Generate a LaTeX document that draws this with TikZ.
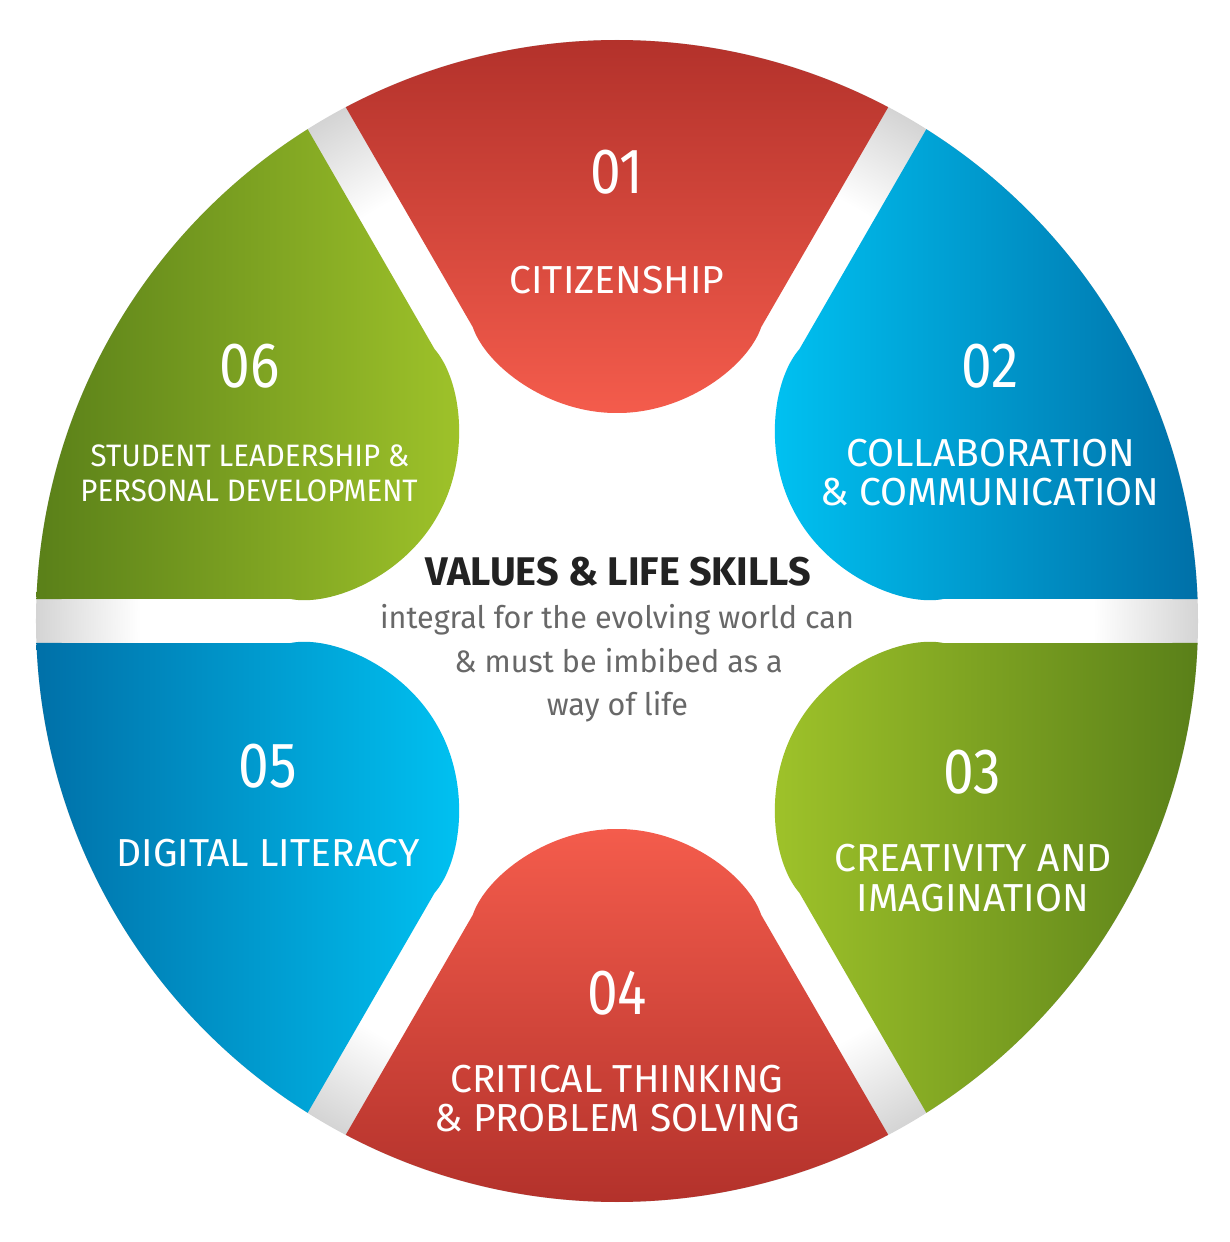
\documentclass[tikz,border=0pt]{standalone}
\usepackage{fontspec}
\setmainfont{Fira Sans}
\newfontfamily\numfont[FakeStretch=0.86]{Fira Sans}
\newfontfamily\labfont[FakeStretch=1.0]{Fira Sans}
\newfontfamily\smlabfont[FakeStretch=0.95]{Fira Sans}
\newfontfamily\titlefont[FakeStretch=0.99]{Fira Sans}
\newfontfamily\subfont[FakeStretch=0.985]{Fira Sans}
\definecolor{RedD}{HTML}{AF2F29}
\definecolor{RedL}{HTML}{F45C4C}
\definecolor{BlueL}{HTML}{00C3F3}
\definecolor{BlueD}{HTML}{0070A8}
\definecolor{GreenL}{HTML}{A0C42A}
\definecolor{GreenD}{HTML}{5A8019}
\definecolor{GapGrey}{HTML}{D4D4D4}
\definecolor{TitleC}{HTML}{222222}
\definecolor{SubC}{HTML}{686868}
\pgfdeclareradialshading{ringshade}{\pgfpointorigin}{color(0bp)=(white); color(20.5bp)=(white); color(25bp)=(GapGrey); color(50bp)=(GapGrey)}
\newcommand\segpath[2]{%
  \path[#2] ({62.17+#1}:581) arc[start angle={62.17+#1}, end angle={117.83+#1}, radius=581]
    -- ({116.14+#1}:327.5)
    .. controls ({117.2+#1}:286) and ({108.2+#1}:218.5) .. ({90+#1}:208)
    .. controls ({71.8+#1}:218.5) and ({62.8+#1}:286) .. ({63.86+#1}:327.5)
    -- cycle;}
\tikzset{
  num/.style={text=white, font=\numfont\fontsize{64}{64}\selectfont, inner sep=0pt},
  lab/.style={text=white, font=\labfont\fontsize{39}{39}\selectfont, inner sep=0pt, anchor=base},
  smalllab/.style={text=white, font=\smlabfont\fontsize{31}{31}\selectfont, inner sep=0pt, anchor=base},
  ttl/.style={text=TitleC, font=\titlefont\bfseries\fontsize{40}{40}\selectfont, inner sep=0pt, anchor=base},
  subt/.style={text=SubC, font=\subfont\fontsize{31}{31}\selectfont, inner sep=0pt, anchor=base},
}
\begin{document}
\begin{tikzpicture}[x=1pt,y=1pt]
\useasboundingbox (-617,-621) rectangle (613,621);
\fill[white] (-617,-621) rectangle (613,621);
\shade[shading=ringshade] (0,0) circle[radius=581];
% segments
\segpath{0}{top color=RedD, bottom color=RedL}
\segpath{-60}{left color=BlueL, right color=BlueD}
\segpath{-120}{left color=GreenL, right color=GreenD}
\segpath{180}{top color=RedL, bottom color=RedD}
\segpath{120}{left color=BlueD, right color=BlueL}
\segpath{60}{left color=GreenD, right color=GreenL}
% texts
\node[num] (n1) at (0,449) {01};
\node[lab] (l1) at (0,327) {CITIZENSHIP};
\node[num] (n2) at (373,255) {02};
\node[lab] (l2a) at (374,154.5) {COLLABORATION};
\node[lab] (l2b) at (373,115.5) {\& COMMUNICATION};
\node[num] (n3) at (355,-151) {03};
\node[lab] (l3a) at (356,-250) {CREATIVITY AND};
\node[lab] (l3b) at (356,-290) {IMAGINATION};
\node[num] (n4) at (0,-372) {04};
\node[lab] (l4a) at (0,-471) {CRITICAL THINKING};
\node[lab] (l4b) at (0,-510) {\& PROBLEM SOLVING};
\node[num] (n5) at (-349,-145) {05};
\node[lab] (l5) at (-349,-245) {DIGITAL LITERACY};
\node[num] (n6) at (-367,255) {06};
\node[smalllab] (l6a) at (-367,154) {STUDENT LEADERSHIP \&};
\node[smalllab] (l6b) at (-368,119) {PERSONAL DEVELOPMENT};
\node[ttl] (t) at (1.5,35) {VALUES \& LIFE SKILLS};
\node[subt] (s1) at (0,-8) {integral for the evolving world can};
\node[subt] (s2) at (1.5,-51) {\& must be imbibed as a};
\node[subt] (s3) at (0.5,-94) {way of life};
\end{tikzpicture}
\end{document}
